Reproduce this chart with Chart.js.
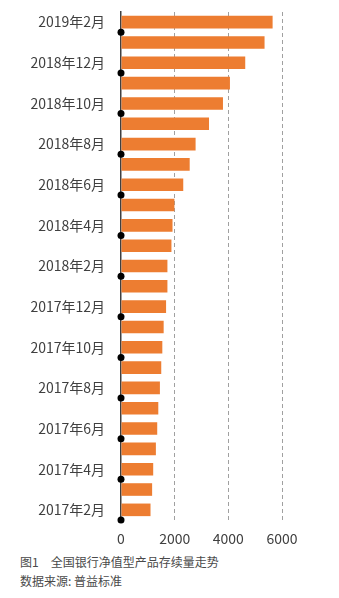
<!DOCTYPE html>
<html>
<head>
<meta charset="utf-8">
<script src="https://cdn.jsdelivr.net/npm/chart.js@4.4.0/dist/chart.umd.min.js"></script>
<style>
  body { margin: 0; background: #fff; width: 339px; height: 598px; position: relative; overflow: hidden; font-family: "Noto Sans CJK SC", sans-serif; }
  #wrap { position: absolute; left: 0; top: 0; width: 339px; height: 552px; }
  .note { position: absolute; left: 20px; font-size: 12px; line-height: 14px; color: #4a4a4a; white-space: pre; }
</style>
</head>
<body>
<div id="wrap"><canvas id="chart"></canvas></div>
<div class="note" style="top:555px">图1　全国银行净值型产品存续量走势</div>
<div class="note" style="top:574px">数据来源: 普益标准</div>
<script>
// top to bottom, as drawn
const categories = [
    '2019年2月', '2019年1月', '2018年12月', '2018年11月', '2018年10月', '2018年9月',
    '2018年8月', '2018年7月', '2018年6月', '2018年5月', '2018年4月', '2018年3月',
    '2018年2月', '2018年1月', '2017年12月', '2017年11月', '2017年10月', '2017年9月',
    '2017年8月', '2017年7月', '2017年6月', '2017年5月', '2017年4月', '2017年3月', '2017年2月'
];
const stock = [
    5650, 5350, 4630, 4060, 3800, 3280,
    2780, 2560, 2320, 1990, 1920, 1880,
    1730, 1730, 1680, 1590, 1540, 1500,
    1450, 1390, 1350, 1300, 1200, 1160, 1100
];
const xTicks = [0, 2000, 4000, 6000];

// black dots on the category axis, every other boundary
const tickDots = {
    id: 'tickDots',
    afterDatasetsDraw(chart) {
        const y = chart.scales.y;
        const ctx = chart.ctx;
        const x0 = chart.chartArea.left;
        const half = (y.getPixelForValue(1) - y.getPixelForValue(0)) / 2;
        ctx.save();
        ctx.fillStyle = '#000';
        for (let i = 0; i < categories.length; i += 2) {
            ctx.beginPath();
            ctx.arc(x0, y.getPixelForValue(i) + half, 3.5, 0, Math.PI * 2);
            ctx.fill();
        }
        ctx.restore();
    }
};

new Chart(document.getElementById('chart'), {
    type: 'bar',
    data: {
        labels: categories,
        datasets: [{
            data: stock,
            backgroundColor: '#ED7D31',
            barPercentage: 0.62,
            categoryPercentage: 1
        }]
    },
    options: {
        indexAxis: 'y',
        responsive: true,
        maintainAspectRatio: false,
        animation: false,
        layout: { padding: { top: 12, right: 57, left: 0, bottom: 0 } },
        plugins: { legend: { display: false }, tooltip: { enabled: false } },
        scales: {
            x: {
                min: xTicks[0],
                max: xTicks[xTicks.length - 1],
                afterBuildTicks: scale => { scale.ticks = xTicks.map(v => ({ value: v })); },
                afterFit: scale => { scale.height = 32; },
                grid: {
                    color: c => c.tick && c.tick.value === 0 ? 'transparent' : '#a0a0a0',
                    lineWidth: 1,
                    drawTicks: false
                },
                border: { display: false, dash: [4, 3] },
                ticks: {
                    color: '#404040',
                    padding: 10,
                    font: { family: '"Noto Sans CJK SC", sans-serif', size: 14 },
                    callback: v => String(v)
                }
            },
            y: {
                afterFit: scale => {
                    scale.width = 121;
                    scale.paddingTop = 0;
                    scale.paddingBottom = 0;
                },
                grid: { display: false, drawTicks: false },
                border: { display: true, color: '#404040', width: 1.5 },
                ticks: {
                    autoSkip: false,
                    color: '#404040',
                    padding: 16,
                    font: { family: '"Noto Sans CJK SC", sans-serif', size: 14 },
                    callback: (v, i) => i % 2 === 0 ? categories[i] : ''
                }
            }
        }
    },
    plugins: [tickDots]
});
</script>
</body>
</html>
